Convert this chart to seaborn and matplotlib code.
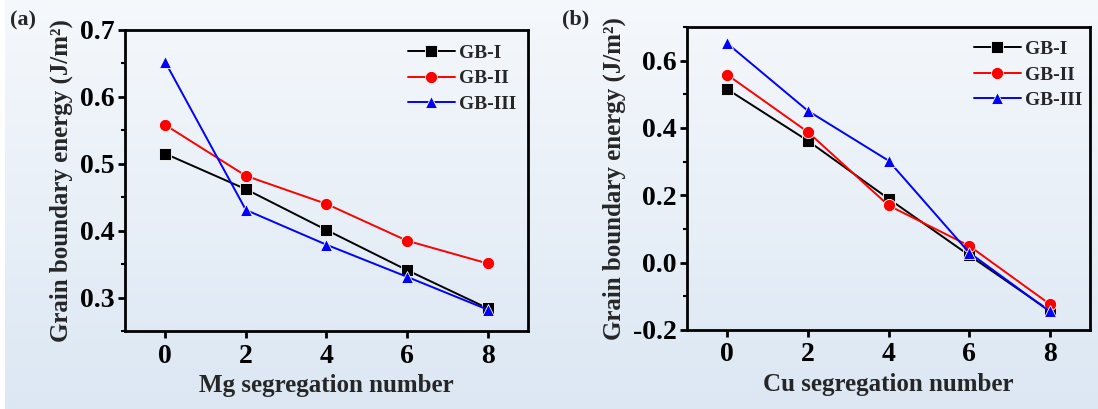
import numpy as np
import pandas as pd
import matplotlib
matplotlib.use("Agg")
import matplotlib.pyplot as plt
from matplotlib.ticker import MultipleLocator, FormatStrFormatter
from matplotlib.patches import Rectangle
import seaborn as sns

# Segregation numbers and grain boundary energies (J/m^2)
seg_number = [0, 2, 4, 6, 8]
series_names = ["GB-I", "GB-II", "GB-III"]

mg_gb1 = [0.515, 0.462, 0.401, 0.341, 0.284]
mg_gb2 = [0.558, 0.482, 0.440, 0.385, 0.351]
mg_gb3 = [0.652, 0.431, 0.379, 0.331, 0.282]

cu_gb1 = [0.515, 0.362, 0.190, 0.022, -0.143]
cu_gb2 = [0.558, 0.388, 0.170, 0.050, -0.123]
cu_gb3 = [0.651, 0.451, 0.303, 0.030, -0.145]

x_labels = ["Mg segregation number", "Cu segregation number"]
y_label = "Grain boundary energy (J/m²)"
panel_tags = ["(a)", "(b)"]

sns.set_theme(style="ticks")
plt.rcParams["font.family"] = ["Liberation Serif", "DejaVu Serif"]
plt.rcParams["font.weight"] = "bold"


def long_frame(values):
    rows = []
    for name, ys in zip(series_names, values):
        for x, y in zip(seg_number, ys):
            rows.append({"n": x, "E": y, "GB": name})
    return pd.DataFrame(rows)


palette = {"GB-I": "#000000", "GB-II": "#ff0000", "GB-III": "#0000ff"}
markers = {"GB-I": "s", "GB-II": "o", "GB-III": "^"}

fig = plt.figure(figsize=(10.98, 4.09), dpi=100)

# soft vertical gradient background
bg = fig.add_axes([0, 0, 1, 1], zorder=-10)
top = np.array([0.962, 0.973, 0.988])
bottom = np.array([0.862, 0.907, 0.955])
t = np.linspace(0, 1, 256)[:, None]
grad = top[None, None, :] * (1 - t[..., None]) + bottom[None, None, :] * t[..., None]
grad = np.repeat(grad, 2, axis=1)
bg.imshow(grad, aspect="auto", extent=[0, 1, 0, 1])
bg.add_patch(Rectangle((0, 0), 0.005, 1, color="white", lw=0))
bg.set_xlim(0, 1)
bg.set_ylim(0, 1)
bg.set_axis_off()

axes_pos = [[0.1138, 0.1907, 0.3670, 0.7360], [0.6257, 0.1932, 0.3670, 0.7408]]
datasets = [[mg_gb1, mg_gb2, mg_gb3], [cu_gb1, cu_gb2, cu_gb3]]
ylims = [(0.25, 0.70), (-0.2, 0.70)]
ymajor = [0.1, 0.2]
legend_anchor = [(0.972, 0.952), (0.982, 0.955)]
tag_pos = [(0.009, 0.950), (0.512, 0.952)]

for i in range(2):
    ax = fig.add_axes(axes_pos[i])
    ax.set_facecolor("none")
    df = long_frame(datasets[i])
    sns.lineplot(data=df, x="n", y="E", hue="GB", style="GB",
                 palette=palette, markers=markers, dashes=False,
                 markersize=8.8, linewidth=1.4, markeredgewidth=0.6,
                 ax=ax)
    ax.set_xlim(-1, 9)
    ax.set_ylim(*ylims[i])
    ax.set_xticks(seg_number)
    ax.yaxis.set_major_locator(MultipleLocator(ymajor[i]))
    ax.yaxis.set_minor_locator(MultipleLocator(ymajor[i] / 2))
    ax.yaxis.set_major_formatter(FormatStrFormatter("%.1f"))
    for s in ax.spines.values():
        s.set_linewidth(2.0)
        s.set_color("black")
    ax.tick_params(axis="both", which="major", direction="out", length=5,
                   width=2, labelsize=20, colors="black")
    ax.tick_params(axis="x", which="major", pad=4)
    ax.tick_params(axis="y", which="major", pad=2.5)
    ax.tick_params(axis="y", which="minor", direction="out", length=3,
                   width=1.5, colors="black")
    for lab in ax.get_xticklabels() + ax.get_yticklabels():
        lab.set_fontweight("bold")
    ax.set_xlabel(x_labels[i], fontsize=18, fontweight="bold", labelpad=4)
    ax.set_ylabel(y_label, fontsize=18, fontweight="bold", labelpad=5)
    leg = ax.legend(loc="upper right", bbox_to_anchor=legend_anchor[i],
                    frameon=False, fontsize=14, handlelength=2.4,
                    handletextpad=0.25, labelspacing=0.4,
                    borderaxespad=0, borderpad=0)
    for txt in leg.get_texts():
        txt.set_fontweight("bold")
    fig.text(tag_pos[i][0], tag_pos[i][1], panel_tags[i],
             fontsize=16, fontweight="bold", va="center", ha="left")

fig.savefig("out.png", dpi=100)
